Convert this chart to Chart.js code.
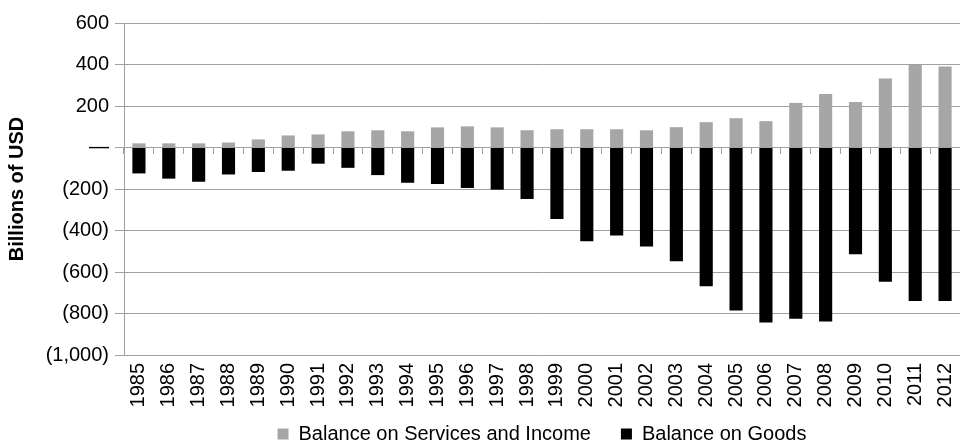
<!DOCTYPE html>
<html>
<head>
<meta charset="utf-8">
<script src="https://cdn.jsdelivr.net/npm/chart.js@4/dist/chart.umd.min.js"></script>
<style>
html,body{margin:0;padding:0;background:#fff;}
canvas{display:block;}
</style>
</head>
<body>
<canvas id="c" width="960" height="443"></canvas>
<script>
const years = ['1985','1986','1987','1988','1989','1990','1991','1992','1993','1994','1995','1996','1997','1998','1999','2000','2001','2002','2003','2004','2005','2006','2007','2008','2009','2010','2011','2012'];
const servicesIncome = [20,20,20,24,39,58,63,78,83,78,97,102,97,83,88,88,88,83,98,122,141,127,215,258,219,332,398,390];
const goods = [-125,-150,-165,-130,-118,-112,-78,-98,-133,-170,-176,-195,-203,-248,-345,-452,-424,-477,-548,-669,-785,-843,-825,-838,-515,-647,-740,-740];
const yMin = -1000, yMax = 600, yStep = 200;
const seriesNames = ['Balance on Services and Income', 'Balance on Goods'];
const axisTitle = 'Billions of USD';

function fmtTick(v){
  if (v === 0) return '\u2014';
  const s = Math.abs(v).toLocaleString('en-US');
  return v < 0 ? '(' + s + ')' : s;
}

const GRID = '#a0a0a0';
const FONT = 'Liberation Sans, Arial, sans-serif';

// move the legend row up so it sits where the reference has it
const legendShift = {
  id: 'legendShift',
  afterLayout(chart) {
    const L = chart.legend;
    if (L) { L.top -= 14; L.bottom -= 14; }
  }
};

new Chart(document.getElementById('c'), {
  type: 'bar',
  data: {
    labels: years,
    datasets: [
      { label: seriesNames[0], data: servicesIncome, backgroundColor: '#a6a6a6', borderWidth: 0,
        grouped: false, barPercentage: 0.44, categoryPercentage: 1, xAxisID: 'x', yAxisID: 'y' },
      { label: seriesNames[1], data: goods, backgroundColor: '#000000', borderWidth: 0,
        grouped: false, barPercentage: 0.44, categoryPercentage: 1, xAxisID: 'x', yAxisID: 'y' }
    ]
  },
  plugins: [legendShift],
  options: {
    responsive: false,
    animation: false,
    devicePixelRatio: 1,
    layout: { padding: { top: 23, right: 0, bottom: -25, left: 0 } },
    plugins: {
      tooltip: { enabled: false },
      legend: {
        position: 'bottom',
        fullSize: false,
        labels: { font: { family: FONT, size: 20 }, color: '#000', boxWidth: 11, boxHeight: 11, padding: 30 }
      }
    },
    scales: {
      x: {
        type: 'category',
        offset: true,
        grid: { offset: true, drawOnChartArea: false, drawTicks: false },
        border: { display: false },
        ticks: { font: { family: FONT, size: 20 }, color: '#000', minRotation: 90, maxRotation: 90, padding: 8, autoSkip: false },
        afterFit: (s) => { s.height = 53; s.paddingLeft = 0; s.paddingRight = 0; }
      },
      x0: {
        type: 'category',
        axis: 'x',
        position: { y: 0 },
        offset: true,
        z: 1,
        grid: { offset: true, drawOnChartArea: false, drawTicks: true, tickLength: 6, color: GRID },
        border: { display: true, color: GRID, width: 1 },
        ticks: { display: false },
        afterFit: (s) => { s.paddingLeft = 0; s.paddingRight = 0; }
      },
      y: {
        min: yMin, max: yMax,
        ticks: { stepSize: yStep, font: { family: FONT, size: 20 }, color: '#000', padding: 6, callback: (v) => fmtTick(v) },
        grid: { color: GRID, tickLength: 9 },
        border: { color: GRID },
        title: { display: true, text: axisTitle, font: { family: FONT, size: 20, weight: 'bold' }, color: '#000', padding: { top: 5, bottom: 0 } },
        afterFit: (s) => { s.width = 124; }
      }
    }
  }
});
</script>
</body>
</html>
